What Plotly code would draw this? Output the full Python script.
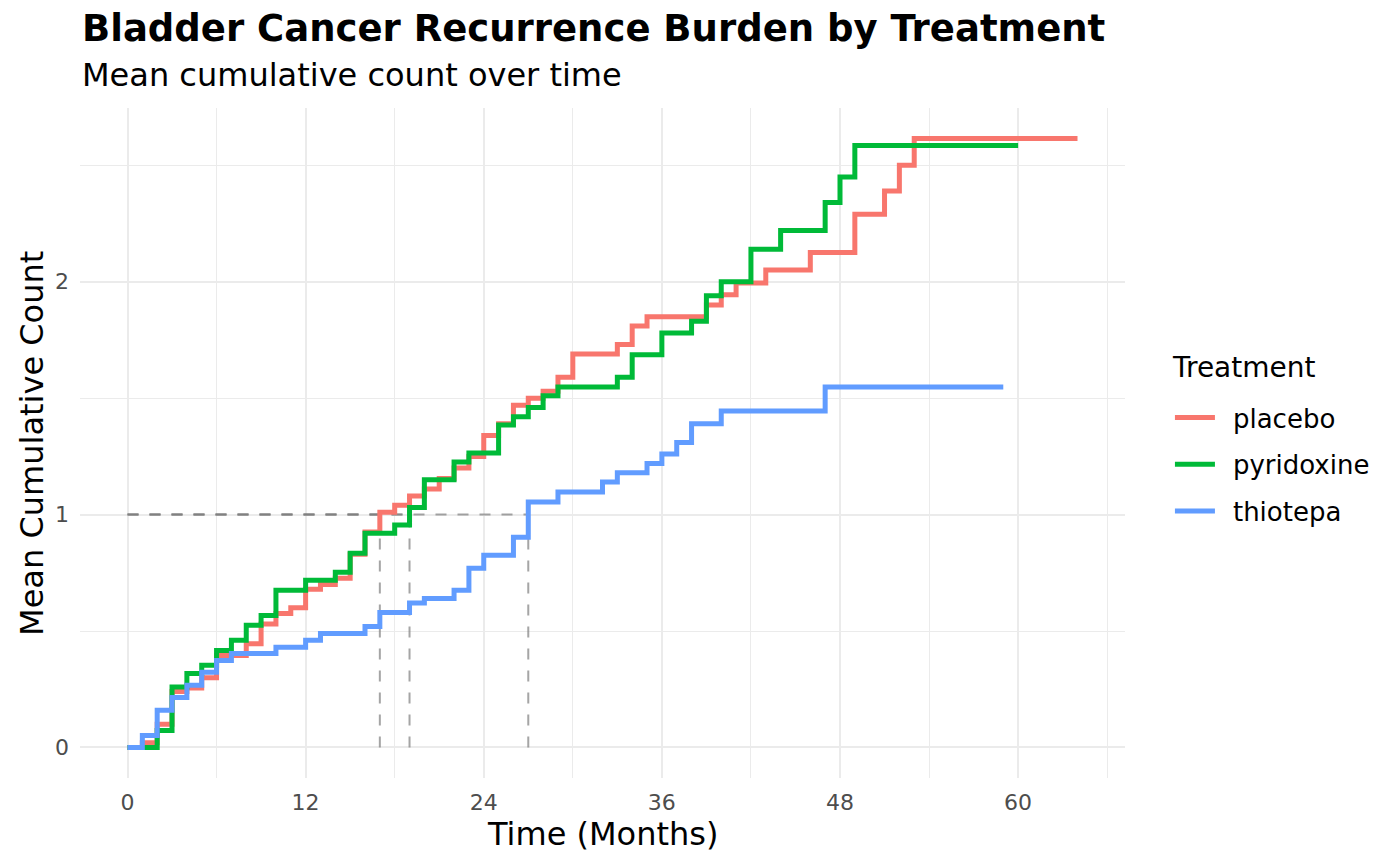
import plotly.graph_objects as go

# ---- data ----
placebo_t = [0, 1, 2, 3, 4, 5, 6, 8, 9, 10, 11, 12, 13, 14, 15, 16, 17, 18, 19, 20, 21, 22, 23, 24, 25, 26,
             27, 28, 29, 30, 33, 34, 35, 39, 40, 41, 43, 46, 49, 51, 52, 53, 64]
placebo_v = [0, 0.02, 0.10, 0.24, 0.255, 0.30, 0.395, 0.445, 0.53, 0.575, 0.60, 0.68, 0.70, 0.727, 0.83, 0.925,
             1.01, 1.04, 1.08, 1.11, 1.155, 1.20, 1.25, 1.34, 1.39, 1.47, 1.50, 1.53, 1.59, 1.69, 1.73, 1.81,
             1.85, 1.90, 1.944, 1.995, 2.05, 2.125, 2.29, 2.39, 2.50, 2.615, 2.615]

pyridoxine_t = [0, 2, 3, 4, 5, 6, 7, 8, 9, 10, 12, 14, 15, 16, 18, 19, 20, 22, 23, 25, 26, 27, 28, 29, 33,
                34, 36, 38, 39, 40, 42, 44, 47, 48, 49, 60]
pyridoxine_v = [0, 0.073, 0.26, 0.318, 0.353, 0.417, 0.46, 0.525, 0.567, 0.675, 0.718, 0.753, 0.834, 0.92,
                0.955, 1.03, 1.15, 1.226, 1.265, 1.385, 1.42, 1.46, 1.51, 1.548, 1.59, 1.686, 1.78, 1.83,
                1.94, 2.0, 2.14, 2.22, 2.34, 2.45, 2.585, 2.585]

thiotepa_t = [0, 1, 2, 3, 4, 5, 6, 7, 10, 12, 13, 16, 17, 19, 20, 22, 23, 24, 26, 27, 29, 32, 33, 35, 36,
              37, 38, 40, 47, 59]
thiotepa_v = [0, 0.052, 0.16, 0.215, 0.267, 0.323, 0.374, 0.404, 0.43, 0.46, 0.49, 0.52, 0.58, 0.62, 0.64,
              0.675, 0.77, 0.826, 0.903, 1.054, 1.097, 1.14, 1.18, 1.22, 1.26, 1.31, 1.39, 1.445, 1.548, 1.548]

treatments = ["placebo", "pyridoxine", "thiotepa"]
colors = ["#F8766D", "#00BA38", "#619CFF"]
median_level = 1.0
median_times = [17, 19, 27]

x_ticks = [0, 12, 24, 36, 48, 60]
y_ticks = [0, 1, 2]

FONT = "DejaVu Sans"
DASH_COL = "rgba(127,127,127,0.7)"

fig = go.Figure()

# median reference segments
for mt in median_times:
    fig.add_trace(go.Scatter(x=[0, mt], y=[median_level, median_level], mode="lines",
                             line=dict(color=DASH_COL, width=2, dash="11px,11px"),
                             showlegend=False, hoverinfo="skip"))
    fig.add_trace(go.Scatter(x=[mt, mt], y=[0, median_level], mode="lines",
                             line=dict(color=DASH_COL, width=2, dash="11px,11px"),
                             showlegend=False, hoverinfo="skip"))

series = [(placebo_t, placebo_v), (pyridoxine_t, pyridoxine_v), (thiotepa_t, thiotepa_v)]
for name, col, (t, v) in zip(treatments, colors, series):
    fig.add_trace(go.Scatter(x=t, y=v, mode="lines", name="\u2002" + name, legendgroup=name,
                             line=dict(color=col, width=5, shape="hv")))

fig.update_layout(
    width=1400, height=865,
    paper_bgcolor="white", plot_bgcolor="white",
    margin=dict(l=72, r=283, t=100, b=95),
    font=dict(family=FONT, color="black"),
    showlegend=True,
    legend=dict(
        x=1.043, y=0.573, xanchor="left", yanchor="top",
        font=dict(size=26, family=FONT, color="black"),
        tracegroupgap=10, itemwidth=40,
        bgcolor="rgba(0,0,0,0)",
    ),
    annotations=[
        dict(text="<b>Bladder Cancer Recurrence Burden by Treatment</b>", x=0, y=1.119,
             xref="paper", yref="paper", xanchor="left", yanchor="middle", showarrow=False,
             font=dict(size=37, family=FONT, color="black")),
        dict(text="Mean cumulative count over time", x=0, y=1.049,
             xref="paper", yref="paper", xanchor="left", yanchor="middle", showarrow=False,
             font=dict(size=32, family=FONT, color="black")),
        dict(text="Time (Months)", x=0.5, y=-0.084, xref="paper", yref="paper",
             xanchor="center", yanchor="middle", showarrow=False,
             font=dict(size=32, family=FONT, color="black")),
        dict(text="Mean Cumulative Count", x=-0.046, y=0.5, xref="paper", yref="paper",
             xanchor="center", yanchor="middle", showarrow=False, textangle=-90,
             font=dict(size=32, family=FONT, color="black")),
        dict(text="Treatment", x=1.043, y=0.613, xref="paper", yref="paper",
             xanchor="left", yanchor="middle", showarrow=False,
             font=dict(size=28, family=FONT, color="black")),
    ],
)

fig.update_xaxes(
    range=[-3.2, 67.2], tickvals=x_ticks, ticktext=[str(v) for v in x_ticks],
    showgrid=True, gridcolor="#EBEBEB", gridwidth=2.2,
    minor=dict(dtick=6, tick0=0, showgrid=True, gridcolor="#EBEBEB", gridwidth=1.1),
    zeroline=False, showline=False, ticks="",
    tickfont=dict(size=22, family=FONT, color="#4D4D4D"), ticklabelstandoff=9,
)
fig.update_yaxes(
    range=[-0.131, 2.746], tickvals=y_ticks, ticktext=[str(v) for v in y_ticks],
    showgrid=True, gridcolor="#EBEBEB", gridwidth=2.2,
    minor=dict(dtick=0.5, tick0=0, showgrid=True, gridcolor="#EBEBEB", gridwidth=1.1),
    zeroline=False, showline=False, ticks="",
    tickfont=dict(size=22, family=FONT, color="#4D4D4D"), ticklabelstandoff=10,
)

fig.write_html("out.html")
